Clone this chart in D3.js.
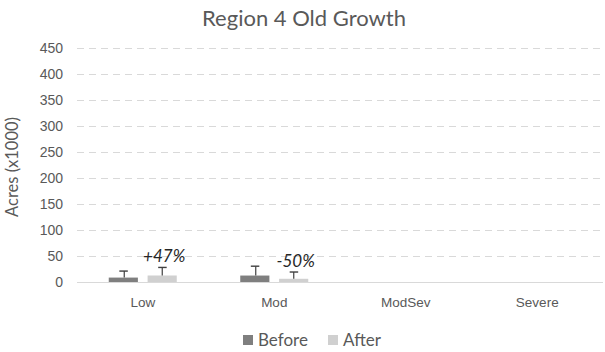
<!DOCTYPE html>
<html>
<head>
<meta charset="utf-8">
<script src="https://cdn.jsdelivr.net/npm/d3@7"></script>
<style>
  html, body { margin: 0; padding: 0; background: #fff; }
  svg { display: block; font-family: Lato, "Open Sans", sans-serif; }
</style>
</head>
<body>
<svg id="chart" width="605" height="352"></svg>
<script>
// Burn severity classes and acreage (thousands of acres)
const categories = ["Low", "Mod", "ModSev", "Severe"];
const seriesNames = ["Before", "After"];
const beforeValues = [8.5, 12.4, 0, 0];
const afterValues = [12.5, 6.2, 0, 0];
const beforeErrors = [12.5, 18, 0, 0];
const afterErrors = [15.5, 13, 0, 0];
const changeLabels = ["+47%", "-50%", null, null];
const yTicks = [0, 50, 100, 150, 200, 250, 300, 350, 400, 450];

const colors = { Before: "#7f7f7f", After: "#d0d0d0" };

const svg = d3.select("#chart");
const margin = { top: 48, right: 2, bottom: 70, left: 77 };
const width = 605 - margin.left - margin.right;
const height = 352 - margin.top - margin.bottom;

const g = svg.append("g").attr("transform", `translate(${margin.left},${margin.top})`);

const x = d3.scaleBand().domain(categories).range([0, width]);
const x1 = d3.scaleBand().domain(seriesNames).range([0, 68]).paddingInner(0.25);
const y = d3.scaleLinear().domain([0, 450]).range([height, 0]);

// Dashed horizontal gridlines
g.append("g").selectAll("line")
  .data(yTicks.filter(t => t > 0))
  .join("line")
  .attr("x1", 0).attr("x2", width)
  .attr("y1", d => Math.round(y(d)) + 0.5).attr("y2", d => Math.round(y(d)) + 0.5)
  .attr("stroke", "#d9d9d9")
  .attr("stroke-dasharray", "7,5");

// Y axis labels
const yAxis = g.append("g")
  .attr("transform", "translate(-14,0)")
  .call(d3.axisLeft(y).tickValues(yTicks).tickSize(0).tickPadding(0));
yAxis.select(".domain").remove();
yAxis.selectAll("text").attr("fill", "#595959").style("font-size", "14px");

// X axis labels
const xAxis = g.append("g")
  .attr("transform", `translate(0,${height})`)
  .call(d3.axisBottom(x).tickSize(0).tickPadding(15));
xAxis.select(".domain").remove();
xAxis.selectAll("text").attr("fill", "#595959").style("font-size", "13.5px");

// Bars
const rows = categories.map((c, i) => ({
  cat: c,
  values: [
    { s: "Before", v: beforeValues[i], e: beforeErrors[i] },
    { s: "After", v: afterValues[i], e: afterErrors[i] }
  ],
  label: changeLabels[i],
  afterTop: afterValues[i] + afterErrors[i]
}));

const groupOffset = (x.bandwidth() - 68) / 2;
const groups = g.selectAll(".grp").data(rows).join("g")
  .attr("class", "grp")
  .attr("transform", d => `translate(${x(d.cat) + groupOffset},0)`);

groups.selectAll("rect").data(d => d.values.filter(v => v.v > 0)).join("rect")
  .attr("x", d => x1(d.s))
  .attr("width", x1.bandwidth())
  .attr("y", d => y(d.v))
  .attr("height", d => y(0) - y(d.v))
  .attr("fill", d => colors[d.s]);

// Error bars (plus direction with caps)
const eb = groups.selectAll(".eb").data(d => d.values.filter(v => v.e > 0)).join("g").attr("class", "eb");
eb.append("line")
  .attr("x1", d => Math.round(x1(d.s) + x1.bandwidth() / 2) + 0.5)
  .attr("x2", d => Math.round(x1(d.s) + x1.bandwidth() / 2) + 0.5)
  .attr("y1", d => y(d.v))
  .attr("y2", d => y(d.v + d.e))
  .attr("stroke", "#404040").attr("stroke-width", 1.2);
eb.append("line")
  .attr("x1", d => x1(d.s) + x1.bandwidth() / 2 - 4)
  .attr("x2", d => x1(d.s) + x1.bandwidth() / 2 + 4.5)
  .attr("y1", d => y(d.v + d.e))
  .attr("y2", d => y(d.v + d.e))
  .attr("stroke", "#404040").attr("stroke-width", 1.4);

// Baseline
g.append("line")
  .attr("x1", 0).attr("x2", width)
  .attr("y1", Math.round(y(0)) + 0.5).attr("y2", Math.round(y(0)) + 0.5)
  .attr("stroke", "#d9d9d9");

// Percent change annotations
groups.filter(d => d.label).append("text")
  .attr("x", x1("After") + x1.bandwidth() / 2 + 2)
  .attr("y", d => y(d.afterTop) - 5)
  .attr("text-anchor", "middle")
  .attr("fill", "#262626")
  .style("font-size", "17px")
  .style("font-style", "italic")
  .text(d => d.label);

// Title
svg.append("text")
  .attr("x", 304).attr("y", 26)
  .attr("text-anchor", "middle")
  .attr("fill", "#595959")
  .style("font-size", "22px")
  .text("Region 4 Old Growth");

// Y axis title
svg.append("text")
  .attr("transform", "translate(18,167) rotate(-90)")
  .attr("text-anchor", "middle")
  .attr("fill", "#595959")
  .style("font-size", "16.5px")
  .text("Acres (x1000)");

// Legend
const legend = svg.append("g").attr("transform", "translate(243,346)");
const items = legend.selectAll("g").data(seriesNames).join("g")
  .attr("transform", (d, i) => `translate(${i * 85},0)`);
items.append("rect")
  .attr("x", 0).attr("y", -11).attr("width", 10).attr("height", 10)
  .attr("fill", d => colors[d]);
items.append("text")
  .attr("x", 15).attr("y", 0)
  .attr("fill", "#595959")
  .style("font-size", "17px")
  .text(d => d);
</script>
</body>
</html>
